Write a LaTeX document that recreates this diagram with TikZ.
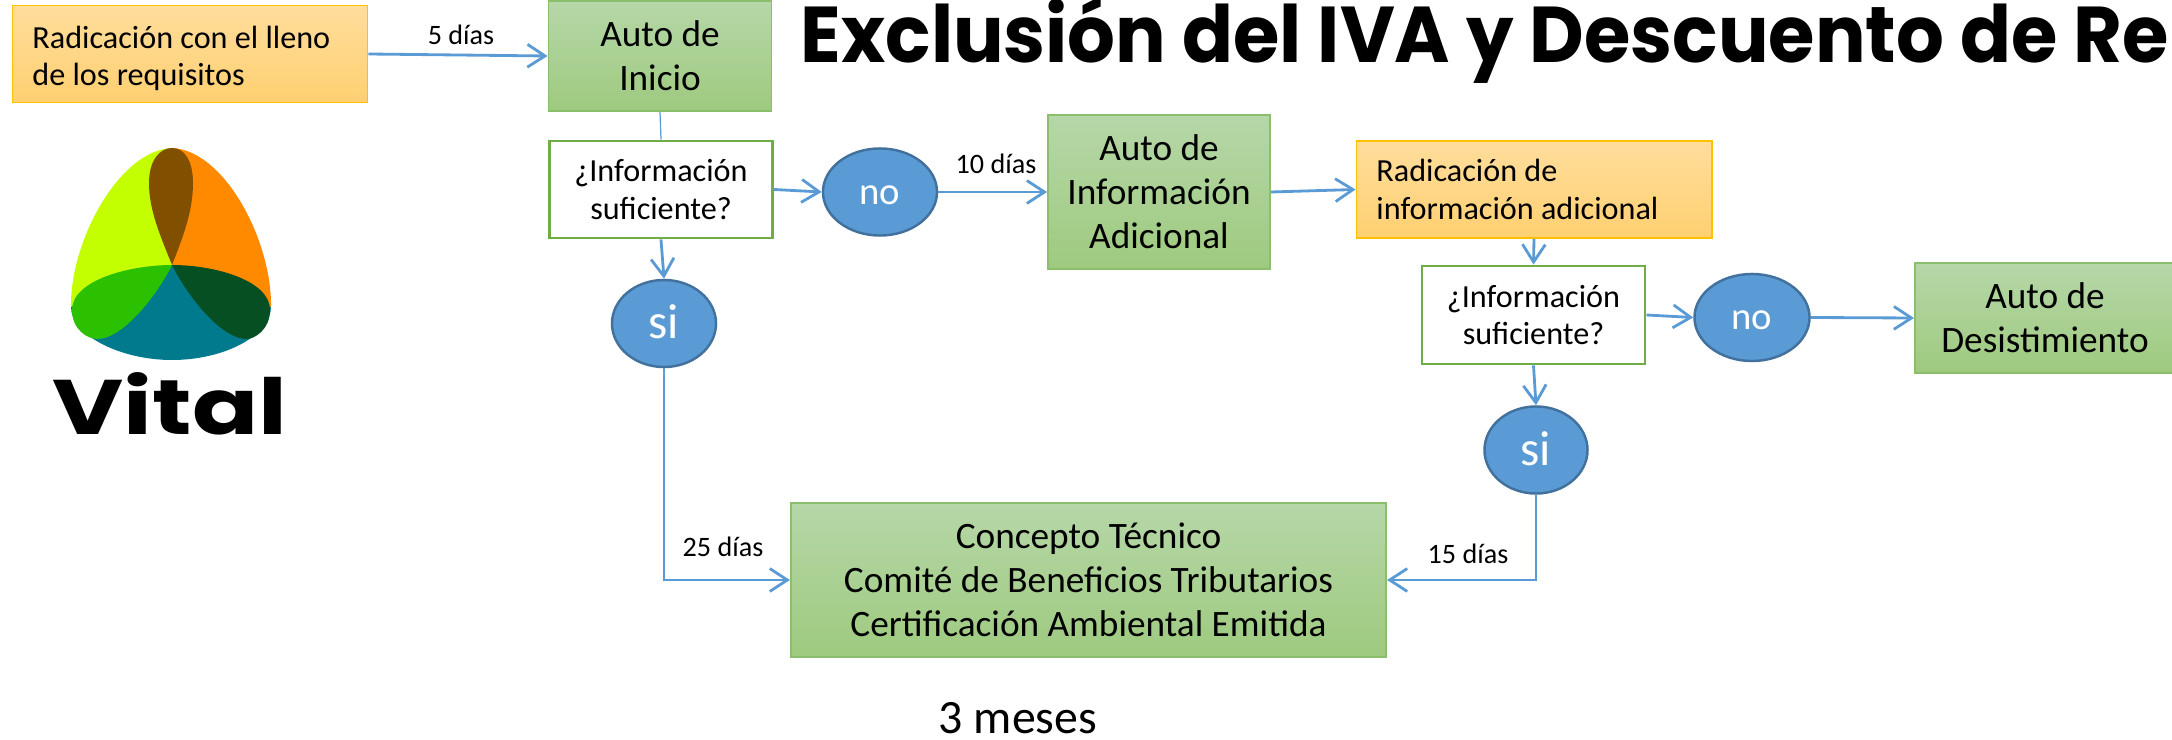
\documentclass[tikz,border=0pt]{standalone}
\usepackage{xcolor}
\usepackage{fontspec}
\usepackage{tikz}
\usetikzlibrary{arrows.meta, shapes.geometric}
\setmainfont{Carlito}
\newfontfamily\titlefont{Poppins}

\definecolor{linkblue}{HTML}{5B9BD5}
\definecolor{ringblue}{HTML}{41719C}
\definecolor{boxgreen}{HTML}{70AD47}
\definecolor{edgegreen}{HTML}{8CBF6C}
\definecolor{edgeorange}{HTML}{FFC000}
\definecolor{boxtop}{HTML}{B6D7A8}
\definecolor{boxbottom}{HTML}{9ECA7F}
\definecolor{radtop}{HTML}{FFDD9C}
\definecolor{radbottom}{HTML}{FFD071}
\definecolor{limeleaf}{HTML}{C4FF00}
\definecolor{orangeleaf}{HTML}{FF8A00}
\definecolor{tealleaf}{HTML}{007A8C}
\definecolor{greenleaf}{HTML}{2BC000}
\definecolor{darkleaf}{HTML}{064F22}
\definecolor{brownleaf}{HTML}{805000}

\tikzset{
  autobox/.style={draw=edgegreen, line width=.5pt, top color=boxtop, bottom color=boxbottom, align=center, inner sep=0pt, font=\fontsize{10.6}{12.5}\selectfont},
  radbox/.style={draw=edgeorange, line width=.5pt, top color=radtop, bottom color=radbottom, align=flush left, inner sep=0pt, font=\fontsize{9.15}{10.6}\selectfont},
  askbox/.style={draw=boxgreen, line width=.8pt, fill=white, align=center, inner sep=0pt, font=\fontsize{9.15}{10.7}\selectfont},
  answer/.style={draw=ringblue, line width=.7pt, fill=linkblue, ellipse, text=white, inner sep=0pt, text height=1.45ex, font=\fontsize{11}{12}\selectfont},
  answeryes/.style={answer, text height=1.85ex, font=\fontsize{14}{15}\selectfont},
  link/.style={draw=linkblue, line width=.8pt, -{Straight Barb[length=5pt, width=6.5pt]}},
  days/.style={inner sep=0pt, font=\fontsize{8}{9}\selectfont}
}

\begin{document}
\begin{tikzpicture}[x=.01cm, y=-.01cm]
     \useasboundingbox (0,0) rectangle (2172,740);

     \node[anchor=west, inner sep=0pt, xscale=.95, font=\titlefont\bfseries\fontsize{22.5}{26}\selectfont] (title) at (800,39.5) {Exclusión del IVA y Descuento de Re};

     \fill[fill=limeleaf] (172,148) .. controls (120,150) and (70,240) .. (71,307) -- (172,265) -- cycle;
     \fill[fill=orangeleaf] (172,148) .. controls (224,150) and (272,240) .. (271,307) -- (172,265) -- cycle;
     \fill[fill=tealleaf] (172,265) -- (71,307) .. controls (71,335) and (120,360) .. (172,360) .. controls (225,360) and (271,335) .. (271,307) -- cycle;
     \fill[fill=greenleaf] (172,265) .. controls (130,265) and (72,280) .. (72,310) .. controls (72,330) and (88,339) .. (97,339) .. controls (125,339) and (160,290) .. (172,265);
     \fill[fill=darkleaf] (172,265) .. controls (214,265) and (270,280) .. (270,310) .. controls (270,330) and (254,339) .. (247,339) .. controls (219,339) and (184,290) .. (172,265);
     \fill[fill=brownleaf] (172,265) .. controls (160,235) and (149,210) .. (149,183) .. controls (149,160) and (160,148) .. (172,148) .. controls (184,148) and (193,160) .. (193,183) .. controls (193,210) and (184,235) .. (172,265);
     \node[inner sep=0pt, xscale=1.26, font=\titlefont\bfseries\fontsize{22}{26}\selectfont] (vital) at (170,404) {Vital};

     \node[radbox, minimum width=3.55cm, minimum height=.97cm, text width=3.15cm] (rad) at (190,54) {\rule{0pt}{9pt}Radicación con el lleno\\de los requisitos};
     \node[autobox, minimum width=2.23cm, minimum height=1.10cm] (inicio) at (660,56) {Auto de\\Inicio};
     \node[askbox, minimum width=2.23cm, minimum height=.97cm] (ask) at (661,189.5) {¿Información\\suficiente?};
     \node[answer, minimum width=1.14cm, minimum height=.87cm] (no) at (880,192) {no};
     \node[answeryes, minimum width=1.04cm, minimum height=.87cm] (si) at (664,323.5) {si};
     \node[autobox, minimum width=2.22cm, minimum height=1.54cm] (adicional) at (1159,192) {Auto de\\Información\\Adicional};
     \node[radbox, minimum width=3.55cm, minimum height=.97cm, text width=3.15cm] (radinfo) at (1534,189.5) {Radicación de\\información adicional};
     \node[askbox, minimum width=2.23cm, minimum height=.98cm] (askinfo) at (1533.5,315) {¿Información\\suficiente?};
     \node[answer, minimum width=1.15cm, minimum height=.87cm] (noinfo) at (1752,317.5) {no};
     \node[answeryes, minimum width=1.03cm, minimum height=.87cm] (siinfo) at (1536,450) {si};
     \node[autobox, minimum width=2.60cm, minimum height=1.10cm] (desist) at (2045,318) {Auto de\\Desistimiento};
     \node[autobox, minimum width=5.95cm, minimum height=1.54cm] (concepto) at (1088.5,580) {Concepto Técnico\\Comité de Beneficios Tributarios\\Certificación Ambiental Emitida};

     \node[days] (cinco) at (461,35) {5 días};
     \node[days] (diez) at (996,164) {10 días};
     \node[days] (veinte) at (723,547) {25 días};
     \node[days] (quince) at (1468,554) {15 días};
     \node[inner sep=0pt, font=\fontsize{13.6}{15}\selectfont] (meses) at (1018,718) {3 meses};

     \draw[link] (rad.east) -- (inicio.west);
     \draw[draw=linkblue, line width=.35pt] (inicio.south) -- (ask.north);
     \draw[link] (ask.east) -- (no.west);
     \draw[link] (ask.south) -- (si.north);
     \draw[link] (no.east) -- (adicional.west);
     \draw[link] (adicional.east) -- (radinfo.west);
     \draw[link] (radinfo.south) -- (askinfo.north);
     \draw[link] (askinfo.east) -- (noinfo.west);
     \draw[link] (askinfo.south) -- (siinfo.north);
     \draw[link] (noinfo.east) -- (desist.west);
     \draw[link] (si.south) |- (concepto.west);
     \draw[link] (siinfo.south) |- (concepto.east);
\end{tikzpicture}
\end{document}
